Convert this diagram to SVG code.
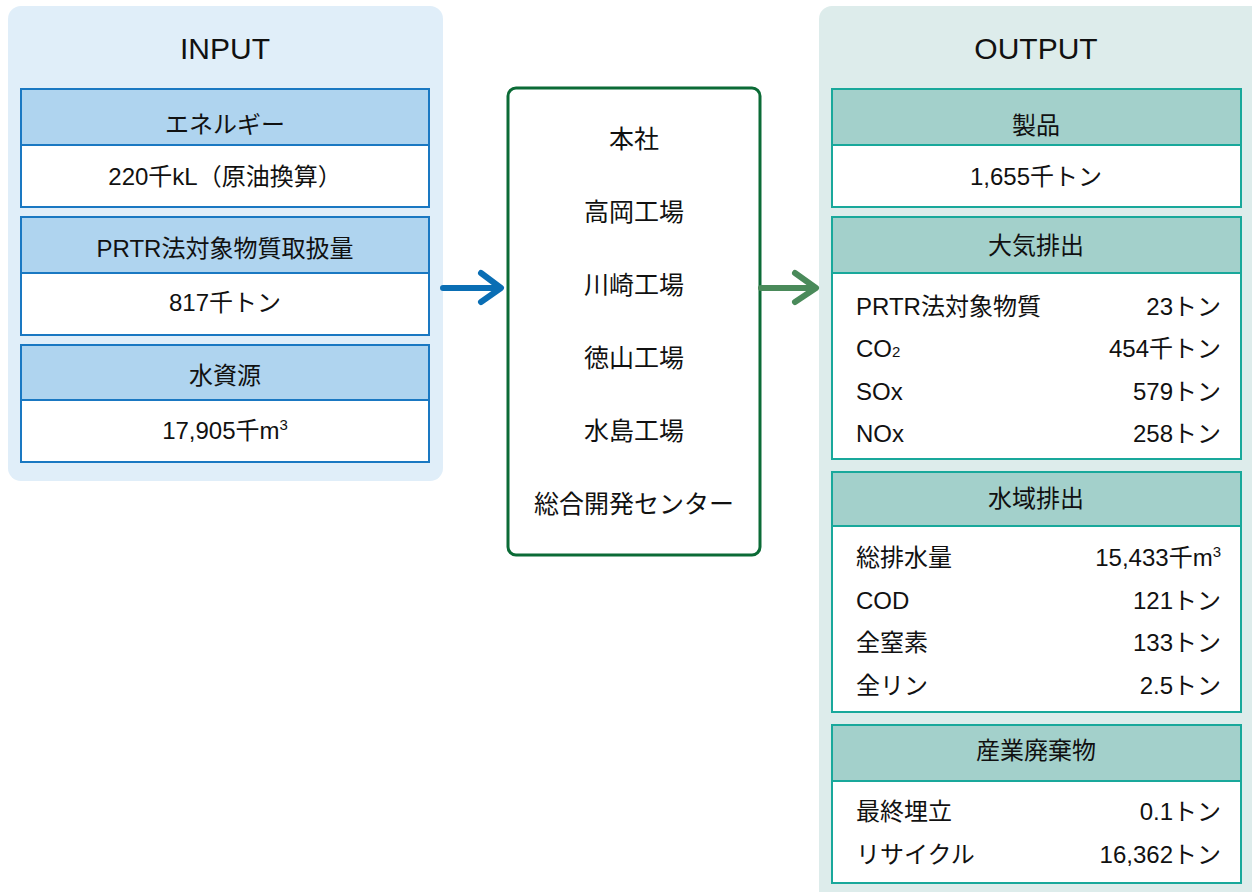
<svg xmlns="http://www.w3.org/2000/svg" width="1252" height="892" viewBox="0 0 1252 892">
<style>
text{font-family:"Liberation Sans","Noto Sans CJK JP",sans-serif;fill:#111}
.title{font-size:30px;text-anchor:middle}
.h{font-size:24px;text-anchor:middle}
.v{font-size:24px;text-anchor:middle}
.l{font-size:24px}
.r{font-size:24px;text-anchor:end}
.site{font-size:25px;text-anchor:middle}
.ih{fill:#afd4ef;stroke:#1a78c2;stroke-width:2}
.ib{fill:#fff;stroke:#1a78c2;stroke-width:2}
.oh{fill:#a3d0cb;stroke:#19a89b;stroke-width:2}
.ob{fill:#fff;stroke:#19a89b;stroke-width:2}
.arr{fill:none;stroke-width:6;stroke-linecap:round;stroke-linejoin:round}
</style>
<rect width="1252" height="892" fill="#fff"/>
<g id="input">
<rect x="8" y="6" width="435" height="475" rx="13" fill="#e0eef9"/>
<text class="title" x="225" y="59">INPUT</text>
</g>
<g id="energy">
<rect class="ih" x="21" y="89" width="408" height="56"/>
<rect class="ib" x="21" y="145" width="408" height="62"/>
<text class="h" x="225" y="133">エネルギー</text>
<text class="v" x="225" y="185">220千kL（原油換算）</text>
</g>
<g id="prtr-in">
<rect class="ih" x="21" y="217" width="408" height="56"/>
<rect class="ib" x="21" y="273" width="408" height="62"/>
<text class="h" x="225" y="257">PRTR法対象物質取扱量</text>
<text class="v" x="225" y="311">817千トン</text>
</g>
<g id="water-in">
<rect class="ih" x="21" y="345" width="408" height="55"/>
<rect class="ib" x="21" y="400" width="408" height="62"/>
<text class="h" x="225" y="384">水資源</text>
<text class="v" x="225" y="439">17,905千m<tspan font-size="15" dy="-9">3</tspan></text>
</g>
<g id="sites">
<rect x="508" y="88" width="252" height="467" rx="8" fill="#fff" stroke="#0b6b36" stroke-width="3"/>
<text class="site" x="634" y="148">本社</text>
<text class="site" x="634" y="221">高岡工場</text>
<text class="site" x="634" y="294">川崎工場</text>
<text class="site" x="634" y="367">徳山工場</text>
<text class="site" x="634" y="440">水島工場</text>
<text class="site" x="634" y="513">総合開発センター</text>
</g>
<g id="output">
<rect x="819" y="6" width="445" height="900" rx="13" fill="#ddeceb"/>
<text class="title" x="1036" y="59">OUTPUT</text>
</g>
<g id="product">
<rect class="oh" x="832" y="89" width="409" height="56"/>
<rect class="ob" x="832" y="145" width="409" height="62"/>
<text class="h" x="1036" y="134">製品</text>
<text class="v" x="1036" y="185">1,655千トン</text>
</g>
<g id="air">
<rect class="oh" x="832" y="217" width="409" height="56"/>
<rect class="ob" x="832" y="273" width="409" height="186"/>
<text class="h" x="1036" y="254">大気排出</text>
<text class="l" x="856" y="315">PRTR法対象物質</text><text class="r" x="1221" y="315">23トン</text>
<text class="l" x="856" y="357">CO<tspan font-size="15">2</tspan></text><text class="r" x="1221" y="357">454千トン</text>
<text class="l" x="856" y="400">SOx</text><text class="r" x="1221" y="400">579トン</text>
<text class="l" x="856" y="442">NOx</text><text class="r" x="1221" y="442">258トン</text>
</g>
<g id="water-out">
<rect class="oh" x="832" y="472" width="409" height="54"/>
<rect class="ob" x="832" y="526" width="409" height="186"/>
<text class="h" x="1036" y="507">水域排出</text>
<text class="l" x="856" y="566">総排水量</text><text class="r" x="1221" y="566">15,433千m<tspan font-size="15" dy="-9">3</tspan></text>
<text class="l" x="856" y="609">COD</text><text class="r" x="1221" y="609">121トン</text>
<text class="l" x="856" y="651">全窒素</text><text class="r" x="1221" y="651">133トン</text>
<text class="l" x="856" y="694">全リン</text><text class="r" x="1221" y="694">2.5トン</text>
</g>
<g id="waste">
<rect class="oh" x="832" y="725" width="409" height="56"/>
<rect class="ob" x="832" y="781" width="409" height="102"/>
<text class="h" x="1036" y="759">産業廃棄物</text>
<text class="l" x="856" y="820">最終埋立</text><text class="r" x="1221" y="820">0.1トン</text>
<text class="l" x="856" y="863">リサイクル</text><text class="r" x="1221" y="863">16,362トン</text>
</g>
<g id="connectors">
<path class="arr" stroke="#0a6eb4" d="M443 288H500M481 273L501 288L481 302"/>
<path class="arr" stroke="#4a8a5a" d="M761 288H815M795 273L816 288L795 302"/>
</g>
</svg>
